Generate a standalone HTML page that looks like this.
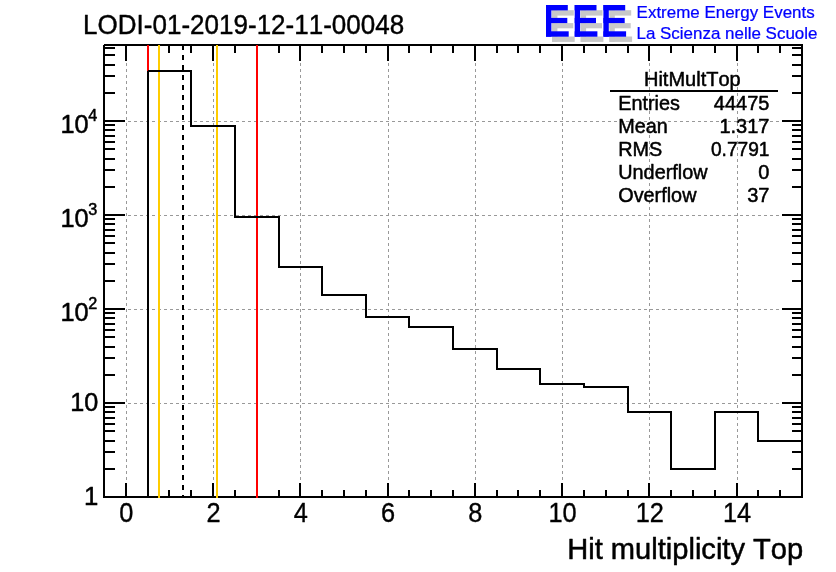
<!DOCTYPE html>
<html><head><meta charset="utf-8"><title>HitMultTop</title>
<style>html,body{margin:0;padding:0;background:#fff;width:836px;height:572px;overflow:hidden}body{position:relative;font-family:"Liberation Sans",sans-serif}</style></head>
<body>
<svg width="836" height="572" viewBox="0 0 836 572" style="will-change:transform;position:absolute;left:0;top:0;font-family:'Liberation Sans',sans-serif;font-kerning:none">
<rect x="0" y="0" width="836" height="572" fill="#fff"/>
<g shape-rendering="crispEdges" stroke="#999999" stroke-width="1" stroke-dasharray="3,3" fill="none">
<line x1="126.5" y1="45" x2="126.5" y2="497"/>
<line x1="213.5" y1="45" x2="213.5" y2="497"/>
<line x1="300.5" y1="45" x2="300.5" y2="497"/>
<line x1="388.5" y1="45" x2="388.5" y2="497"/>
<line x1="475.5" y1="45" x2="475.5" y2="497"/>
<line x1="562.5" y1="45" x2="562.5" y2="497"/>
<line x1="649.5" y1="45" x2="649.5" y2="497"/>
<line x1="737.5" y1="45" x2="737.5" y2="497"/>
<line x1="104" y1="403.5" x2="802" y2="403.5"/>
<line x1="104" y1="309.5" x2="802" y2="309.5"/>
<line x1="104" y1="215.5" x2="802" y2="215.5"/>
<line x1="104" y1="121.5" x2="802" y2="121.5"/>
</g>
<g shape-rendering="crispEdges" fill="#000">
<rect x="103" y="44" width="700" height="2"/>
<rect x="103" y="496" width="700" height="2"/>
<rect x="103" y="44" width="2" height="454"/>
<rect x="801" y="44" width="2" height="454"/>
<rect x="125" y="483" width="2" height="14"/>
<rect x="125" y="45" width="2" height="16"/>
<rect x="147" y="490" width="2" height="7"/>
<rect x="147" y="45" width="2" height="8"/>
<rect x="168" y="490" width="2" height="7"/>
<rect x="168" y="45" width="2" height="8"/>
<rect x="190" y="490" width="2" height="7"/>
<rect x="190" y="45" width="2" height="8"/>
<rect x="212" y="483" width="2" height="14"/>
<rect x="212" y="45" width="2" height="16"/>
<rect x="234" y="490" width="2" height="7"/>
<rect x="234" y="45" width="2" height="8"/>
<rect x="256" y="490" width="2" height="7"/>
<rect x="256" y="45" width="2" height="8"/>
<rect x="278" y="490" width="2" height="7"/>
<rect x="278" y="45" width="2" height="8"/>
<rect x="299" y="483" width="2" height="14"/>
<rect x="299" y="45" width="2" height="16"/>
<rect x="321" y="490" width="2" height="7"/>
<rect x="321" y="45" width="2" height="8"/>
<rect x="343" y="490" width="2" height="7"/>
<rect x="343" y="45" width="2" height="8"/>
<rect x="365" y="490" width="2" height="7"/>
<rect x="365" y="45" width="2" height="8"/>
<rect x="387" y="483" width="2" height="14"/>
<rect x="387" y="45" width="2" height="16"/>
<rect x="408" y="490" width="2" height="7"/>
<rect x="408" y="45" width="2" height="8"/>
<rect x="430" y="490" width="2" height="7"/>
<rect x="430" y="45" width="2" height="8"/>
<rect x="452" y="490" width="2" height="7"/>
<rect x="452" y="45" width="2" height="8"/>
<rect x="474" y="483" width="2" height="14"/>
<rect x="474" y="45" width="2" height="16"/>
<rect x="496" y="490" width="2" height="7"/>
<rect x="496" y="45" width="2" height="8"/>
<rect x="517" y="490" width="2" height="7"/>
<rect x="517" y="45" width="2" height="8"/>
<rect x="539" y="490" width="2" height="7"/>
<rect x="539" y="45" width="2" height="8"/>
<rect x="561" y="483" width="2" height="14"/>
<rect x="561" y="45" width="2" height="16"/>
<rect x="583" y="490" width="2" height="7"/>
<rect x="583" y="45" width="2" height="8"/>
<rect x="605" y="490" width="2" height="7"/>
<rect x="605" y="45" width="2" height="8"/>
<rect x="627" y="490" width="2" height="7"/>
<rect x="627" y="45" width="2" height="8"/>
<rect x="648" y="483" width="2" height="14"/>
<rect x="648" y="45" width="2" height="16"/>
<rect x="670" y="490" width="2" height="7"/>
<rect x="670" y="45" width="2" height="8"/>
<rect x="692" y="490" width="2" height="7"/>
<rect x="692" y="45" width="2" height="8"/>
<rect x="714" y="490" width="2" height="7"/>
<rect x="714" y="45" width="2" height="8"/>
<rect x="736" y="483" width="2" height="14"/>
<rect x="736" y="45" width="2" height="16"/>
<rect x="757" y="490" width="2" height="7"/>
<rect x="757" y="45" width="2" height="8"/>
<rect x="779" y="490" width="2" height="7"/>
<rect x="779" y="45" width="2" height="8"/>
<rect x="104" y="468" width="11" height="2"/>
<rect x="792" y="468" width="10" height="2"/>
<rect x="104" y="451" width="11" height="2"/>
<rect x="792" y="451" width="10" height="2"/>
<rect x="104" y="440" width="11" height="2"/>
<rect x="792" y="440" width="10" height="2"/>
<rect x="104" y="430" width="11" height="2"/>
<rect x="792" y="430" width="10" height="2"/>
<rect x="104" y="423" width="11" height="2"/>
<rect x="792" y="423" width="10" height="2"/>
<rect x="104" y="417" width="11" height="2"/>
<rect x="792" y="417" width="10" height="2"/>
<rect x="104" y="411" width="11" height="2"/>
<rect x="792" y="411" width="10" height="2"/>
<rect x="104" y="406" width="11" height="2"/>
<rect x="792" y="406" width="10" height="2"/>
<rect x="104" y="402" width="21" height="2"/>
<rect x="782" y="402" width="20" height="2"/>
<rect x="104" y="374" width="11" height="2"/>
<rect x="792" y="374" width="10" height="2"/>
<rect x="104" y="357" width="11" height="2"/>
<rect x="792" y="357" width="10" height="2"/>
<rect x="104" y="346" width="11" height="2"/>
<rect x="792" y="346" width="10" height="2"/>
<rect x="104" y="336" width="11" height="2"/>
<rect x="792" y="336" width="10" height="2"/>
<rect x="104" y="329" width="11" height="2"/>
<rect x="792" y="329" width="10" height="2"/>
<rect x="104" y="323" width="11" height="2"/>
<rect x="792" y="323" width="10" height="2"/>
<rect x="104" y="317" width="11" height="2"/>
<rect x="792" y="317" width="10" height="2"/>
<rect x="104" y="312" width="11" height="2"/>
<rect x="792" y="312" width="10" height="2"/>
<rect x="104" y="308" width="21" height="2"/>
<rect x="782" y="308" width="20" height="2"/>
<rect x="104" y="280" width="11" height="2"/>
<rect x="792" y="280" width="10" height="2"/>
<rect x="104" y="263" width="11" height="2"/>
<rect x="792" y="263" width="10" height="2"/>
<rect x="104" y="252" width="11" height="2"/>
<rect x="792" y="252" width="10" height="2"/>
<rect x="104" y="242" width="11" height="2"/>
<rect x="792" y="242" width="10" height="2"/>
<rect x="104" y="235" width="11" height="2"/>
<rect x="792" y="235" width="10" height="2"/>
<rect x="104" y="229" width="11" height="2"/>
<rect x="792" y="229" width="10" height="2"/>
<rect x="104" y="223" width="11" height="2"/>
<rect x="792" y="223" width="10" height="2"/>
<rect x="104" y="218" width="11" height="2"/>
<rect x="792" y="218" width="10" height="2"/>
<rect x="104" y="214" width="21" height="2"/>
<rect x="782" y="214" width="20" height="2"/>
<rect x="104" y="186" width="11" height="2"/>
<rect x="792" y="186" width="10" height="2"/>
<rect x="104" y="169" width="11" height="2"/>
<rect x="792" y="169" width="10" height="2"/>
<rect x="104" y="158" width="11" height="2"/>
<rect x="792" y="158" width="10" height="2"/>
<rect x="104" y="148" width="11" height="2"/>
<rect x="792" y="148" width="10" height="2"/>
<rect x="104" y="141" width="11" height="2"/>
<rect x="792" y="141" width="10" height="2"/>
<rect x="104" y="135" width="11" height="2"/>
<rect x="792" y="135" width="10" height="2"/>
<rect x="104" y="129" width="11" height="2"/>
<rect x="792" y="129" width="10" height="2"/>
<rect x="104" y="124" width="11" height="2"/>
<rect x="792" y="124" width="10" height="2"/>
<rect x="104" y="120" width="21" height="2"/>
<rect x="782" y="120" width="20" height="2"/>
<rect x="104" y="92" width="11" height="2"/>
<rect x="792" y="92" width="10" height="2"/>
<rect x="104" y="75" width="11" height="2"/>
<rect x="792" y="75" width="10" height="2"/>
<rect x="104" y="64" width="11" height="2"/>
<rect x="792" y="64" width="10" height="2"/>
<rect x="104" y="54" width="11" height="2"/>
<rect x="792" y="54" width="10" height="2"/>
<rect x="104" y="47" width="11" height="2"/>
<rect x="792" y="47" width="10" height="2"/>
</g>
<rect x="103" y="44" width="1" height="1" fill="#fff" shape-rendering="crispEdges"/>
<g shape-rendering="crispEdges">
<rect x="147" y="45" width="2" height="453" fill="#ff0000"/>
<rect x="256" y="45" width="2" height="453" fill="#ff0000"/>
<rect x="158" y="45" width="2" height="453" fill="#ffcc00"/>
<rect x="216" y="45" width="2" height="453" fill="#ffcc00"/>
</g>
<path d="M104 497 L148 497 L148 71 L191 71 L191 126 L235 126 L235 217 L279 217 L279 267 L322 267 L322 295 L366 295 L366 317 L409 317 L409 327 L453 327 L453 349 L497 349 L497 369 L540 369 L540 384 L584 384 L584 387 L628 387 L628 412 L671 412 L671 469 L715 469 L715 412 L758 412 L758 441 L802 441" fill="none" stroke="#000" stroke-width="2" stroke-linejoin="miter" stroke-linecap="butt" shape-rendering="crispEdges"/>
<rect x="147" y="70" width="1" height="1" fill="#ff0000" shape-rendering="crispEdges"/>
<g shape-rendering="crispEdges">
<line x1="183" y1="45" x2="183" y2="497" stroke="#000" stroke-width="2" stroke-dasharray="5,5"/>
</g>
<text transform="translate(83.1 33.8) scale(1.011 1.06)" font-size="25.74px" text-anchor="start" fill="#000" stroke="#000" stroke-width="0.4" stroke-linejoin="round" font-weight="normal">LODI-01-2019-12-11-00048</text>
<text transform="translate(126.314 522.2) scale(0.985 1.05)" font-size="25.74px" text-anchor="middle" fill="#000" stroke="#000" stroke-width="0.35" stroke-linejoin="round" font-weight="normal">0</text>
<text transform="translate(213.572 522.2) scale(0.985 1.05)" font-size="25.74px" text-anchor="middle" fill="#000" stroke="#000" stroke-width="0.35" stroke-linejoin="round" font-weight="normal">2</text>
<text transform="translate(300.829 522.2) scale(0.985 1.05)" font-size="25.74px" text-anchor="middle" fill="#000" stroke="#000" stroke-width="0.35" stroke-linejoin="round" font-weight="normal">4</text>
<text transform="translate(388.087 522.2) scale(0.985 1.05)" font-size="25.74px" text-anchor="middle" fill="#000" stroke="#000" stroke-width="0.35" stroke-linejoin="round" font-weight="normal">6</text>
<text transform="translate(475.344 522.2) scale(0.985 1.05)" font-size="25.74px" text-anchor="middle" fill="#000" stroke="#000" stroke-width="0.35" stroke-linejoin="round" font-weight="normal">8</text>
<text transform="translate(562.602 522.2) scale(0.985 1.05)" font-size="25.74px" text-anchor="middle" fill="#000" stroke="#000" stroke-width="0.35" stroke-linejoin="round" font-weight="normal">10</text>
<text transform="translate(649.859 522.2) scale(0.985 1.05)" font-size="25.74px" text-anchor="middle" fill="#000" stroke="#000" stroke-width="0.35" stroke-linejoin="round" font-weight="normal">12</text>
<text transform="translate(737.117 522.2) scale(0.985 1.05)" font-size="25.74px" text-anchor="middle" fill="#000" stroke="#000" stroke-width="0.35" stroke-linejoin="round" font-weight="normal">14</text>
<text transform="translate(803.2 558.5) scale(1.0175 1.03)" font-size="28.6px" text-anchor="end" fill="#000" stroke="#000" stroke-width="0.5" stroke-linejoin="round" font-weight="normal">Hit multiplicity Top</text>
<text transform="translate(98.4 504.65) scale(1 1)" font-size="25.74px" text-anchor="end" fill="#000" stroke="#000" stroke-width="0.5" stroke-linejoin="round" font-weight="normal">1</text>
<text transform="translate(98.2 410.75) scale(0.98 1)" font-size="25.74px" text-anchor="end" fill="#000" stroke="#000" stroke-width="0.5" stroke-linejoin="round" font-weight="normal">10</text>
<text transform="translate(88.7 320.95) scale(0.985 1)" font-size="25.74px" text-anchor="end" fill="#000" stroke="#000" stroke-width="0.5" stroke-linejoin="round" font-weight="normal">10</text>
<text transform="translate(88.2 309.4) scale(1 1)" font-size="16.2px" text-anchor="start" fill="#000" stroke="#000" stroke-width="0.5" stroke-linejoin="round" font-weight="normal">2</text>
<text transform="translate(88.7 226.95) scale(0.985 1)" font-size="25.74px" text-anchor="end" fill="#000" stroke="#000" stroke-width="0.5" stroke-linejoin="round" font-weight="normal">10</text>
<text transform="translate(88.2 215.4) scale(1 1)" font-size="16.2px" text-anchor="start" fill="#000" stroke="#000" stroke-width="0.5" stroke-linejoin="round" font-weight="normal">3</text>
<text transform="translate(88.7 132.95) scale(0.985 1)" font-size="25.74px" text-anchor="end" fill="#000" stroke="#000" stroke-width="0.5" stroke-linejoin="round" font-weight="normal">10</text>
<text transform="translate(88.2 121.4) scale(1 1)" font-size="16.2px" text-anchor="start" fill="#000" stroke="#000" stroke-width="0.5" stroke-linejoin="round" font-weight="normal">4</text>
<text transform="translate(692.3 85.9) scale(1 1.03)" font-size="20.02px" text-anchor="middle" fill="#000" stroke="#000" stroke-width="0.5" stroke-linejoin="round" font-weight="normal">HitMultTop</text>
<rect x="610" y="90" width="168" height="2" fill="#000" shape-rendering="crispEdges"/>
<text transform="translate(618.3 109.6) scale(0.99 1)" font-size="20.02px" text-anchor="start" fill="#000" stroke="#000" stroke-width="0.5" stroke-linejoin="round" font-weight="normal">Entries</text>
<text transform="translate(769.5 109.6) scale(1 1)" font-size="20.02px" text-anchor="end" fill="#000" stroke="#000" stroke-width="0.5" stroke-linejoin="round" font-weight="normal">44475</text>
<text transform="translate(618.3 132.6) scale(0.99 1)" font-size="20.02px" text-anchor="start" fill="#000" stroke="#000" stroke-width="0.5" stroke-linejoin="round" font-weight="normal">Mean</text>
<text transform="translate(769.5 132.6) scale(1 1)" font-size="20.02px" text-anchor="end" fill="#000" stroke="#000" stroke-width="0.5" stroke-linejoin="round" font-weight="normal">1.317</text>
<text transform="translate(618.3 155.6) scale(0.99 1)" font-size="20.02px" text-anchor="start" fill="#000" stroke="#000" stroke-width="0.5" stroke-linejoin="round" font-weight="normal">RMS</text>
<text transform="translate(769.5 155.6) scale(0.956 1)" font-size="20.02px" text-anchor="end" fill="#000" stroke="#000" stroke-width="0.5" stroke-linejoin="round" font-weight="normal">0.7791</text>
<text transform="translate(618.3 178.6) scale(0.99 1)" font-size="20.02px" text-anchor="start" fill="#000" stroke="#000" stroke-width="0.5" stroke-linejoin="round" font-weight="normal">Underflow</text>
<text transform="translate(769.5 178.6) scale(1 1)" font-size="20.02px" text-anchor="end" fill="#000" stroke="#000" stroke-width="0.5" stroke-linejoin="round" font-weight="normal">0</text>
<text transform="translate(618.3 201.6) scale(0.99 1)" font-size="20.02px" text-anchor="start" fill="#000" stroke="#000" stroke-width="0.5" stroke-linejoin="round" font-weight="normal">Overflow</text>
<text transform="translate(769.5 201.6) scale(1 1)" font-size="20.02px" text-anchor="end" fill="#000" stroke="#000" stroke-width="0.5" stroke-linejoin="round" font-weight="normal">37</text>
<g fill="#c8c8c8">
<rect x="552" y="10.2" width="5.4" height="31.7"/>
<rect x="552" y="10.2" width="21.8" height="5.4"/>
<rect x="552" y="23.1" width="21.3" height="5.2"/>
<rect x="552" y="36.5" width="22.7" height="5.4"/>
<rect x="580.7" y="10.2" width="5.4" height="31.7"/>
<rect x="580.7" y="10.2" width="21.8" height="5.4"/>
<rect x="580.7" y="23.1" width="21.3" height="5.2"/>
<rect x="580.7" y="36.5" width="22.7" height="5.4"/>
<rect x="609.4" y="10.2" width="5.4" height="31.7"/>
<rect x="609.4" y="10.2" width="21.8" height="5.4"/>
<rect x="609.4" y="23.1" width="21.3" height="5.2"/>
<rect x="609.4" y="36.5" width="22.7" height="5.4"/>
</g>
<g fill="#0000ff">
<rect x="546" y="5" width="5.4" height="31.7"/>
<rect x="546" y="5" width="21.8" height="5.4"/>
<rect x="546" y="17.9" width="21.3" height="5.2"/>
<rect x="546" y="31.3" width="22.7" height="5.4"/>
<rect x="574.7" y="5" width="5.4" height="31.7"/>
<rect x="574.7" y="5" width="21.8" height="5.4"/>
<rect x="574.7" y="17.9" width="21.3" height="5.2"/>
<rect x="574.7" y="31.3" width="22.7" height="5.4"/>
<rect x="603.4" y="5" width="5.4" height="31.7"/>
<rect x="603.4" y="5" width="21.8" height="5.4"/>
<rect x="603.4" y="17.9" width="21.3" height="5.2"/>
<rect x="603.4" y="31.3" width="22.7" height="5.4"/>
</g>
<text transform="translate(636.6 17.7) scale(0.998 1)" font-size="17px" text-anchor="start" fill="#0000ff" stroke="#0000ff" stroke-width="0.25" stroke-linejoin="round" font-weight="normal">Extreme Energy Events</text>
<text transform="translate(636.5 38.9) scale(0.998 1)" font-size="17px" text-anchor="start" fill="#0000ff" stroke="#0000ff" stroke-width="0.25" stroke-linejoin="round" font-weight="normal">La Scienza nelle Scuole</text>
</svg>
</body></html>
